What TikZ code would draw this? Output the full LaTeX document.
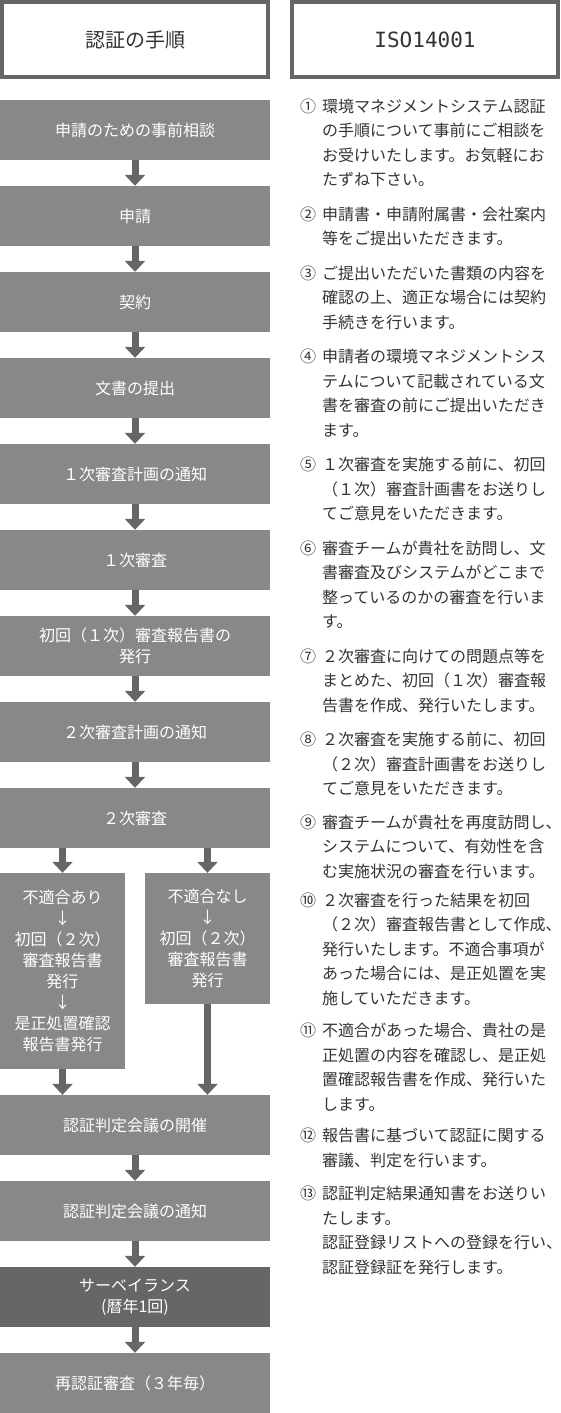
\documentclass[tikz,border=0pt]{standalone}
\usepackage{fontspec}
\setmainfont{Noto Sans CJK JP}
\newfontfamily\isofont{DejaVu Sans Mono}
\usetikzlibrary{arrows.meta}
\definecolor{boxgray}{HTML}{888888}
\definecolor{boxdark}{HTML}{666666}
\definecolor{arrowgray}{HTML}{666666}
\definecolor{txt}{HTML}{333333}
\begin{document}
\begin{tikzpicture}[x=1pt,y=-1pt,
  stepbox/.style={fill=boxgray, text=white, minimum width=270pt, minimum height=60pt, inner sep=0pt, align=center, font=\fontsize{16}{21}\selectfont},
  halfbox/.style={fill=boxgray, text=white, minimum width=125pt, inner sep=0pt, align=center, font=\fontsize{16}{21}\selectfont},
  headbox/.style={draw=arrowgray, line width=4pt, text=txt, minimum width=266pt, minimum height=75pt, inner sep=0pt, font=\fontsize{20}{24}\selectfont},
  flow/.style={draw=arrowgray, line width=7pt, -{Triangle[width=20pt,length=11pt]}},
  note/.style={anchor=base west, inner sep=0pt, text=txt, align=left, font=\fontsize{16}{24.5}\selectfont}
]
\useasboundingbox (0,0) rectangle (560,1413);
% headers
\node[headbox] (h1) at (135,39.5) {認証の手順};
\node[headbox] (h2) at (425,39.5) {{\isofont\fontsize{21}{24}\selectfont ISO14001}};
% flow boxes
\node[stepbox] (b1) at (135,130) {申請のための事前相談};
\node[stepbox] (b2) at (135,216) {申請};
\node[stepbox] (b3) at (135,302) {契約};
\node[stepbox] (b4) at (135,388) {文書の提出};
\node[stepbox] (b5) at (135,474) {１次審査計画の通知};
\node[stepbox] (b6) at (135,560) {１次審査};
\node[stepbox] (b7) at (135,646) {初回（１次）審査報告書の\\発行};
\node[stepbox] (b8) at (135,732) {２次審査計画の通知};
\node[stepbox] (b9) at (135,818) {２次審査};
\node[halfbox, minimum height=196pt] (L) at (62.5,971) {不適合あり\\↓\\初回（２次）\\審査報告書\\発行\\↓\\是正処置確認\\報告書発行};
\node[halfbox, minimum height=131pt] (R) at (207.5,938.5) {不適合なし\\↓\\初回（２次）\\審査報告書\\発行};
\node[stepbox] (c1) at (135,1125) {認証判定会議の開催};
\node[stepbox] (c2) at (135,1211) {認証判定会議の通知};
\node[stepbox, fill=boxdark] (c3) at (135,1297) {サーベイランス\\(暦年1回)};
\node[stepbox] (c4) at (135,1383) {再認証審査（３年毎）};
% connectors
\draw[flow] (b1) -- (b2);
\draw[flow] (b2) -- (b3);
\draw[flow] (b3) -- (b4);
\draw[flow] (b4) -- (b5);
\draw[flow] (b5) -- (b6);
\draw[flow] (b6) -- (b7);
\draw[flow] (b7) -- (b8);
\draw[flow] (b8) -- (b9);
\draw[flow] (b9.south -| L.north) -- (L.north);
\draw[flow] (b9.south -| R.north) -- (R.north);
\draw[flow] (L.south) -- (L.south |- c1.north);
\draw[flow] (R.south) -- (R.south |- c1.north);
\draw[flow] (c1) -- (c2);
\draw[flow] (c2) -- (c3);
\draw[flow] (c3) -- (c4);
% notes (anchor = baseline of the last line)
\node[note] (n1) at (300,185.5) {\makebox[22pt][l]{①}環境マネジメントシステム認証\\\hspace*{22pt}の手順について事前にご相談を\\\hspace*{22pt}お受けいたします。お気軽にお\\\hspace*{22pt}たずね下さい。};
\node[note] (n2) at (300,244.5) {\makebox[22pt][l]{②}申請書・申請附属書・会社案内\\\hspace*{22pt}等をご提出いただきます。};
\node[note] (n3) at (300,328) {\makebox[22pt][l]{③}ご提出いただいた書類の内容を\\\hspace*{22pt}確認の上、適正な場合には契約\\\hspace*{22pt}手続きを行います。};
\node[note] (n4) at (300,436) {\makebox[22pt][l]{④}申請者の環境マネジメントシス\\\hspace*{22pt}テムについて記載されている文\\\hspace*{22pt}書を審査の前にご提出いただき\\\hspace*{22pt}ます。};
\node[note] (n5) at (300,519.5) {\makebox[22pt][l]{⑤}１次審査を実施する前に、初回\\\hspace*{22pt}（１次）審査計画書をお送りし\\\hspace*{22pt}てご意見をいただきます。};
\node[note] (n6) at (300,627.5) {\makebox[22pt][l]{⑥}審査チームが貴社を訪問し、文\\\hspace*{22pt}書審査及びシステムがどこまで\\\hspace*{22pt}整っているのかの審査を行いま\\\hspace*{22pt}す。};
\node[note] (n7) at (300,711) {\makebox[22pt][l]{⑦}２次審査に向けての問題点等を\\\hspace*{22pt}まとめた、初回（１次）審査報\\\hspace*{22pt}告書を作成、発行いたします。};
\node[note] (n8) at (300,794.5) {\makebox[22pt][l]{⑧}２次審査を実施する前に、初回\\\hspace*{22pt}（２次）審査計画書をお送りし\\\hspace*{22pt}てご意見をいただきます。};
\node[note] (n9) at (300,877) {\makebox[22pt][l]{⑨}審査チームが貴社を再度訪問し、\\\hspace*{22pt}システムについて、有効性を含\\\hspace*{22pt}む実施状況の審査を行います。};
\node[note] (n10) at (300,1004) {\makebox[22pt][l]{⑩}２次審査を行った結果を初回\\\hspace*{22pt}（２次）審査報告書として作成、\\\hspace*{22pt}発行いたします。不適合事項が\\\hspace*{22pt}あった場合には、是正処置を実\\\hspace*{22pt}施していただきます。};
\node[note] (n11) at (300,1110) {\makebox[22pt][l]{⑪}不適合があった場合、貴社の是\\\hspace*{22pt}正処置の内容を確認し、是正処\\\hspace*{22pt}置確認報告書を作成、発行いた\\\hspace*{22pt}します。};
\node[note] (n12) at (300,1166) {\makebox[22pt][l]{⑫}報告書に基づいて認証に関する\\\hspace*{22pt}審議、判定を行います。};
\node[note] (n13) at (300,1273) {\makebox[22pt][l]{⑬}認証判定結果通知書をお送りい\\\hspace*{22pt}たします。\\\hspace*{22pt}認証登録リストへの登録を行い、\\\hspace*{22pt}認証登録証を発行します。};
\end{tikzpicture}
\end{document}
